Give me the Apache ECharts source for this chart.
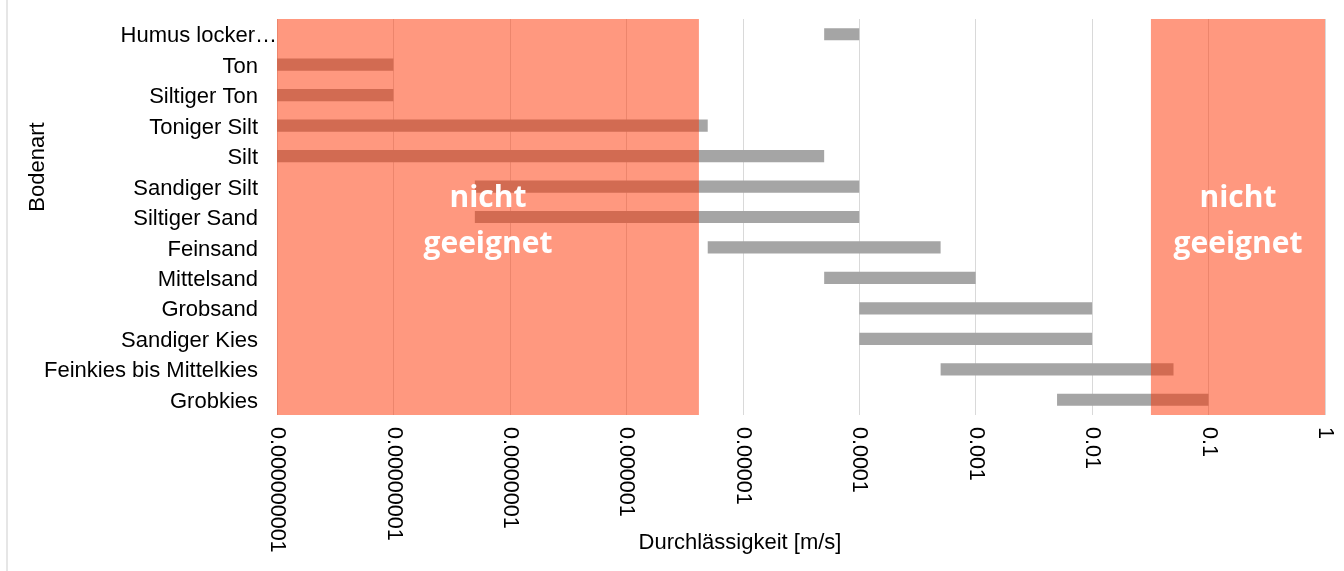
<!DOCTYPE html>
<html style="height: 100%">
<head>
    <meta charset="utf-8">
    <title>Durchlässigkeit Bodenarten</title>
    <script src="https://cdn.jsdelivr.net/npm/echarts@6/dist/echarts.min.js"></script>
</head>
<body style="height: 100%; margin: 0">
    <div id="container" style="width: 1344px; height: 571px"></div>
    <script type="text/javascript">
        var bodenarten = ['Humus locker…', 'Ton', 'Siltiger Ton', 'Toniger Silt', 'Silt',
                          'Sandiger Silt', 'Siltiger Sand', 'Feinsand', 'Mittelsand', 'Grobsand',
                          'Sandiger Kies', 'Feinkies bis Mittelkies', 'Grobkies'];
        var kfVon = [5e-5, 1e-9, 1e-9, 1e-9, 1e-9, 5e-8, 5e-8, 5e-6, 5e-5, 1e-4, 1e-4, 5e-4, 5e-3];
        var kfBis = [1e-4, 1e-8, 1e-8, 5e-6, 5e-5, 1e-4, 1e-4, 5e-4, 1e-3, 1e-2, 1e-2, 5e-2, 1e-1];
        // ungeeignete Bereiche
        var zoneVon = [1e-9, 3.2e-2];
        var zoneBis = [4.2e-6, 1];
        var zoneText = ['nicht\ngeeignet', 'nicht\ngeeignet'];

        var dom = document.getElementById('container');
        var myChart = echarts.init(dom);

        var barData = bodenarten.map(function (name, i) {
            return [i, kfVon[i], kfBis[i]];
        });
        var zoneData = zoneVon.map(function (v, i) {
            return [v, zoneBis[i]];
        });

        function renderBar(params, api) {
            var cat = api.value(0);
            var start = api.coord([api.value(1), cat]);
            var end = api.coord([api.value(2), cat]);
            var height = api.size([0, 1])[1] * 0.4;
            return {
                type: 'rect',
                shape: {x: start[0], y: start[1] - height / 2, width: end[0] - start[0], height: height},
                style: {fill: '#a5a5a5'}
            };
        }

        function renderZone(params, api) {
            var cs = params.coordSys;
            var x0 = api.coord([api.value(0), 0])[0];
            var x1 = api.coord([api.value(1), 0])[0];
            return {
                type: 'rect',
                shape: {x: x0, y: cs.y, width: x1 - x0, height: cs.height},
                style: {fill: 'rgba(255, 50, 0, 0.5)'},
                textContent: {
                    style: {
                        text: zoneText[params.dataIndex],
                        fill: '#fff',
                        fontFamily: 'Open Sans',
                        fontWeight: 'bold',
                        fontSize: 30,
                        lineHeight: 46,
                        align: 'center'
                    }
                },
                textConfig: {position: 'inside', offset: [0, 4]}
            };
        }

        option = {
            animation: false,
            textStyle: {fontFamily: 'Liberation Sans'},
            grid: {left: 277, right: 19, top: 19, bottom: 156},
            xAxis: {
                type: 'log',
                logBase: 10,
                min: 1e-9,
                max: 1,
                axisLine: {show: false},
                axisTick: {show: false},
                splitLine: {lineStyle: {color: '#d9d9d9', width: 1}},
                axisLabel: {
                    rotate: -90,
                    margin: 12,
                    fontSize: 21.5,
                    color: '#000',
                    formatter: function (val) {
                        var d = Math.round(-Math.log10(val));
                        return d > 0 ? val.toFixed(d) : String(Math.round(val));
                    }
                }
            },
            yAxis: {
                type: 'category',
                inverse: true,
                data: bodenarten,
                axisLine: {show: false},
                axisTick: {show: false},
                splitLine: {show: false},
                axisLabel: {
                    fontSize: 22,
                    color: '#000',
                    margin: 19,
                    padding: [4, 0, 0, 0],
                    formatter: function (val, idx) {
                        // erster Eintrag läuft in Excel bis an die Zeichenfläche
                        return idx === 0 ? '{lang|' + val + '}' : val;
                    },
                    rich: {
                        lang: {fontSize: 22, color: '#000', padding: [0, -19, 0, 0]}
                    }
                }
            },
            graphic: [
                {type: 'line', shape: {x1: 7, y1: 0, x2: 7, y2: 571}, style: {stroke: '#e6e6e6', lineWidth: 2}},
                {type: 'text', x: 38, y: 167, rotation: Math.PI / 2,
                 style: {text: 'Bodenart', fontSize: 22, fontFamily: 'Liberation Sans', fill: '#000',
                         align: 'center', verticalAlign: 'middle'}},
                {type: 'text', x: 740, y: 543,
                 style: {text: 'Durchlässigkeit [m/s]', fontSize: 22, fontFamily: 'Liberation Sans', fill: '#000',
                         align: 'center', verticalAlign: 'middle'}}
            ],
            series: [{
                type: 'custom',
                renderItem: renderBar,
                encode: {x: [1, 2], y: 0},
                data: barData,
                z: 2
            }, {
                type: 'custom',
                renderItem: renderZone,
                encode: {x: [0, 1]},
                data: zoneData,
                silent: true,
                z: 3
            }]
        };

        myChart.setOption(option);
    </script>
</body>
</html>
